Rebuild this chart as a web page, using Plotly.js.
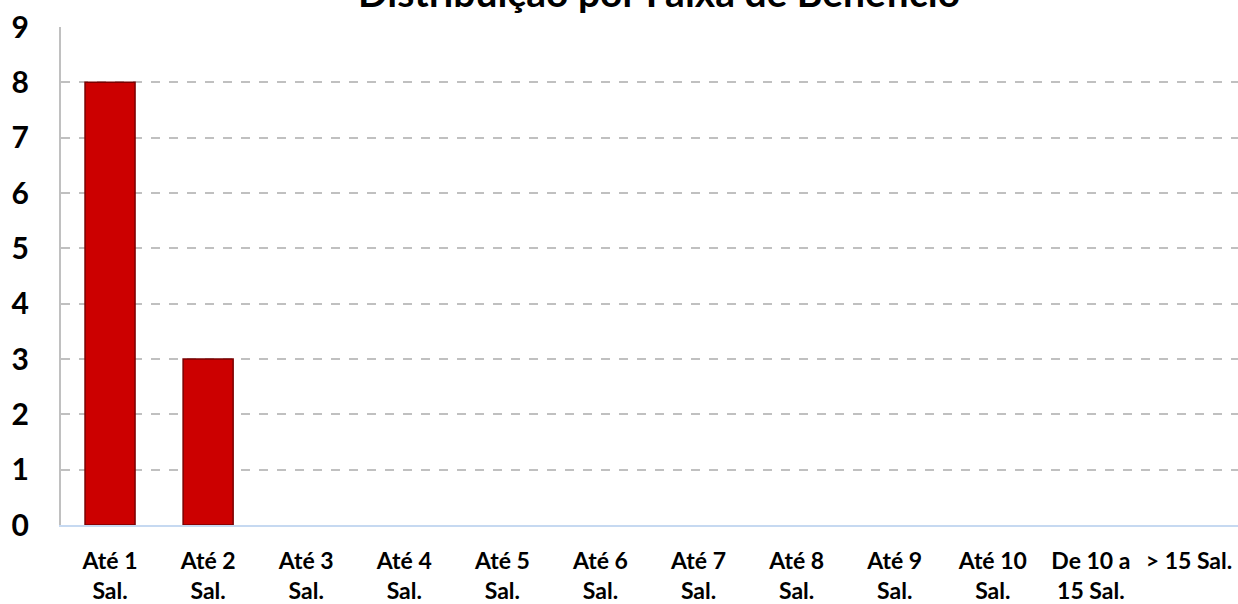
<!DOCTYPE html>
<html>
<head>
<meta charset="utf-8">
<script src="https://cdn.plot.ly/plotly-3.0.1.min.js"></script>
<style>html,body{margin:0;padding:0;background:#fff;}#chart{width:1238px;height:604px;}</style>
</head>
<body>
<div id="chart"></div>
<script>
const categories = ["Até 1<br>Sal.", "Até 2<br>Sal.", "Até 3<br>Sal.", "Até 4<br>Sal.", "Até 5<br>Sal.", "Até 6<br>Sal.", "Até 7<br>Sal.", "Até 8<br>Sal.", "Até 9<br>Sal.", "Até 10<br>Sal.", "De 10 a<br>15 Sal.", "> 15 Sal."];
const values = [8, 3, 0, 0, 0, 0, 0, 0, 0, 0, 0, 0];
const chartTitle = "Distribuição por Faixa de Benefício";

const trace = {
  type: 'bar',
  x: categories,
  y: values,
  marker: {color: '#cc0000', line: {color: '#7a0000', width: values.map(v => v > 0 ? 1.5 : 0)}},
  hoverinfo: 'x+y'
};

const layout = {
  width: 1238, height: 604,
  margin: {l: 61, r: 0, t: 27, b: 79},
  paper_bgcolor: '#ffffff', plot_bgcolor: '#ffffff',
  font: {family: 'Lato, "Open Sans", sans-serif', color: '#000'},
  annotations: [{
    text: '<b>' + chartTitle + '</b>',
    xref: 'paper', yref: 'paper',
    x: 0.508, y: 1.07, xanchor: 'center', yanchor: 'middle',
    showarrow: false,
    font: {size: 39, color: '#000', family: 'Lato, sans-serif'}
  }],
  bargap: 0.49,
  showlegend: false,
  xaxis: {
    type: 'category',
    showline: true, linecolor: '#c6d9f1', linewidth: 2,
    showgrid: false, ticks: '',
    tickfont: {size: 23, color: '#000', family: 'Lato, sans-serif', weight: 'bold'},
    ticklabelstandoff: 14
  },
  yaxis: {
    range: [0, 9], dtick: 1,
    showgrid: true, gridcolor: '#c0c0c0', griddash: 'dash', gridwidth: 2,
    zeroline: false,
    showline: true, linecolor: '#c0c0c0', linewidth: 2,
    ticks: '',
    tickfont: {size: 30, color: '#000', family: 'Lato, sans-serif', weight: 'bold'},
    ticklabelstandoff: 24
  }
};

Plotly.newPlot('chart', [trace], layout, {displayModeBar: false, staticPlot: true});
</script>
</body>
</html>
